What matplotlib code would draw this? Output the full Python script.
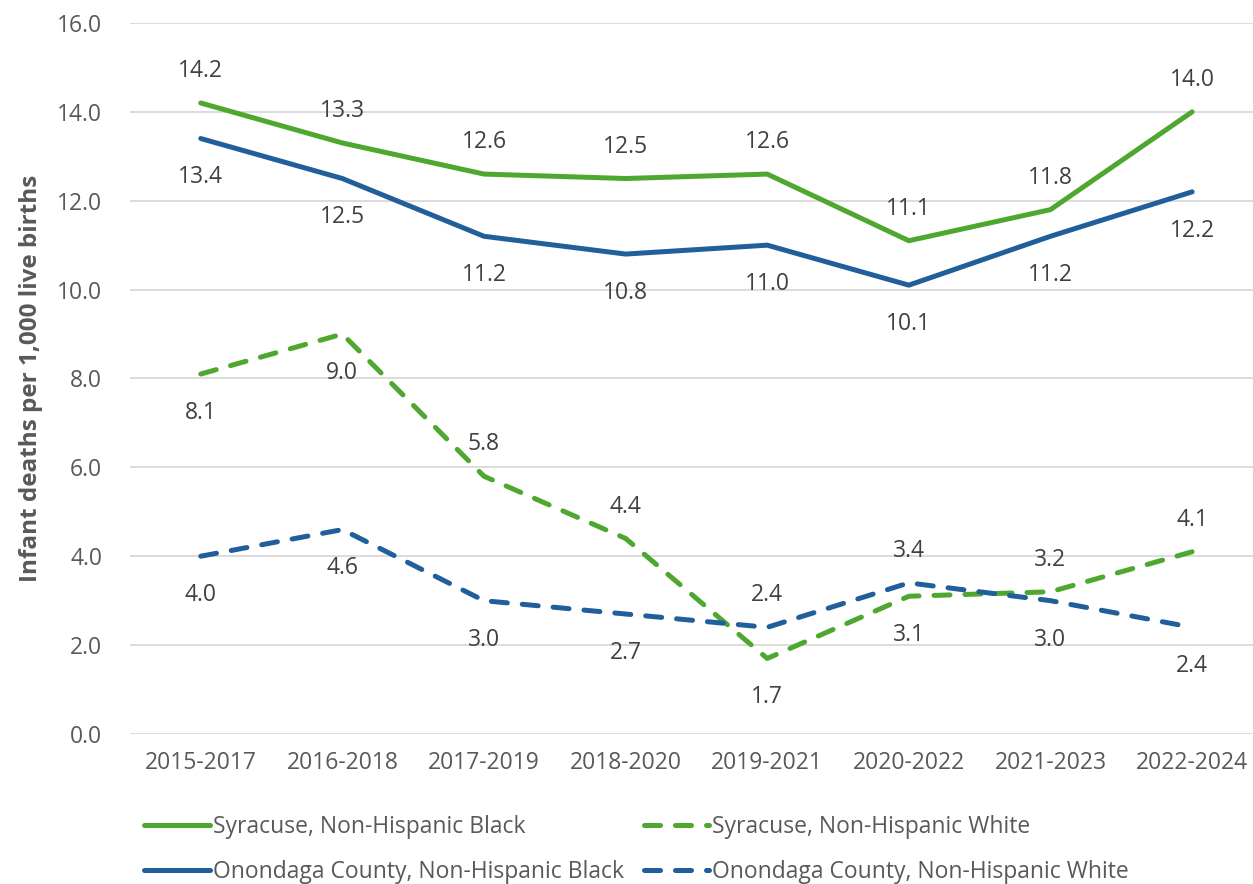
import matplotlib
matplotlib.use('Agg')
import matplotlib.pyplot as plt
import numpy as np

# -------------------------------------------------------------------
# data
periods = ['2015-2017', '2016-2018', '2017-2019', '2018-2020',
           '2019-2021', '2020-2022', '2021-2023', '2022-2024']
syr_black = [14.2, 13.3, 12.6, 12.5, 12.6, 11.1, 11.8, 14.0]
ono_black = [13.4, 12.5, 11.2, 10.8, 11.0, 10.1, 11.2, 12.2]
syr_white = [8.1, 9.0, 5.8, 4.4, 1.7, 3.1, 3.2, 4.1]
ono_white = [4.0, 4.6, 3.0, 2.7, 2.4, 3.4, 3.0, 2.4]
# label placement: 1 = above, -1 = below
syr_black_pos = [1, 1, 1, 1, 1, 1, 1, 1]
ono_black_pos = [-1, -1, -1, -1, -1, -1, -1, -1]
syr_white_pos = [-1, -1, 1, 1, -1, -1, 1, 1]
ono_white_pos = [-1, -1, -1, -1, 1, 1, -1, -1]

GREEN = '#4ea72e'
BLUE = '#215f9a'
TXT = '#595959'
FS = 16.5

plt.rcParams['font.family'] = ['Open Sans', 'DejaVu Sans']

fig = plt.figure(figsize=(12.53, 8.84), dpi=100)
ax = fig.add_axes([0.1037, 0.1697, 0.8963, 0.8043])

x = np.arange(len(periods))
series = [
    (syr_black, syr_black_pos, GREEN, '-', 'Syracuse, Non-Hispanic Black'),
    (ono_black, ono_black_pos, BLUE, '-', 'Onondaga County, Non-Hispanic Black'),
    (syr_white, syr_white_pos, GREEN, '--', 'Syracuse, Non-Hispanic White'),
    (ono_white, ono_white_pos, BLUE, '--', 'Onondaga County, Non-Hispanic White'),
]
lines = []
for vals, pos, col, ls, lab in series:
    ln, = ax.plot(x, vals, color=col, lw=3.6, ls=ls, label=lab,
                  solid_capstyle='round', dash_capstyle='round',
                  solid_joinstyle='round')
    if ls == '--':
        ln.set_dashes((3.2, 3.0))
    lines.append(ln)
    for xi, v, p in zip(x, vals, pos):
        ax.annotate(f'{v:.1f}', (xi, v), xytext=(0, 23 if p > 0 else -28),
                    textcoords='offset points', ha='center', va='center',
                    fontsize=FS, color='#404040')

ax.set_ylim(0, 16)
ax.set_yticks(np.arange(0, 17, 2))
ax.set_yticklabels([f'{t:.1f}' for t in np.arange(0, 17, 2)])
ax.set_xlim(-0.5, 7.43)
ax.set_xticks(x)
ax.set_xticklabels(periods)
ax.tick_params(axis='both', length=0, labelsize=FS, labelcolor=TXT)
ax.tick_params(axis='x', pad=12)
ax.tick_params(axis='y', pad=20)
ax.grid(axis='y', color='#d9d9d9', lw=1.3)
ax.set_axisbelow(True)
for s in ax.spines.values():
    s.set_visible(False)
ax.set_ylabel('Infant deaths per 1,000 live births', fontsize=17.5,
              fontweight='bold', color=TXT, labelpad=10)

fig.legend(lines, [l.get_label() for l in lines], ncol=2, frameon=False,
           loc='upper left', bbox_to_anchor=(0.108, 0.088),
           fontsize=FS, labelcolor=TXT, handlelength=2.85,
           handletextpad=0.15, columnspacing=0.85, labelspacing=0.9,
           borderaxespad=0)

fig.savefig('out.png', dpi=100)
